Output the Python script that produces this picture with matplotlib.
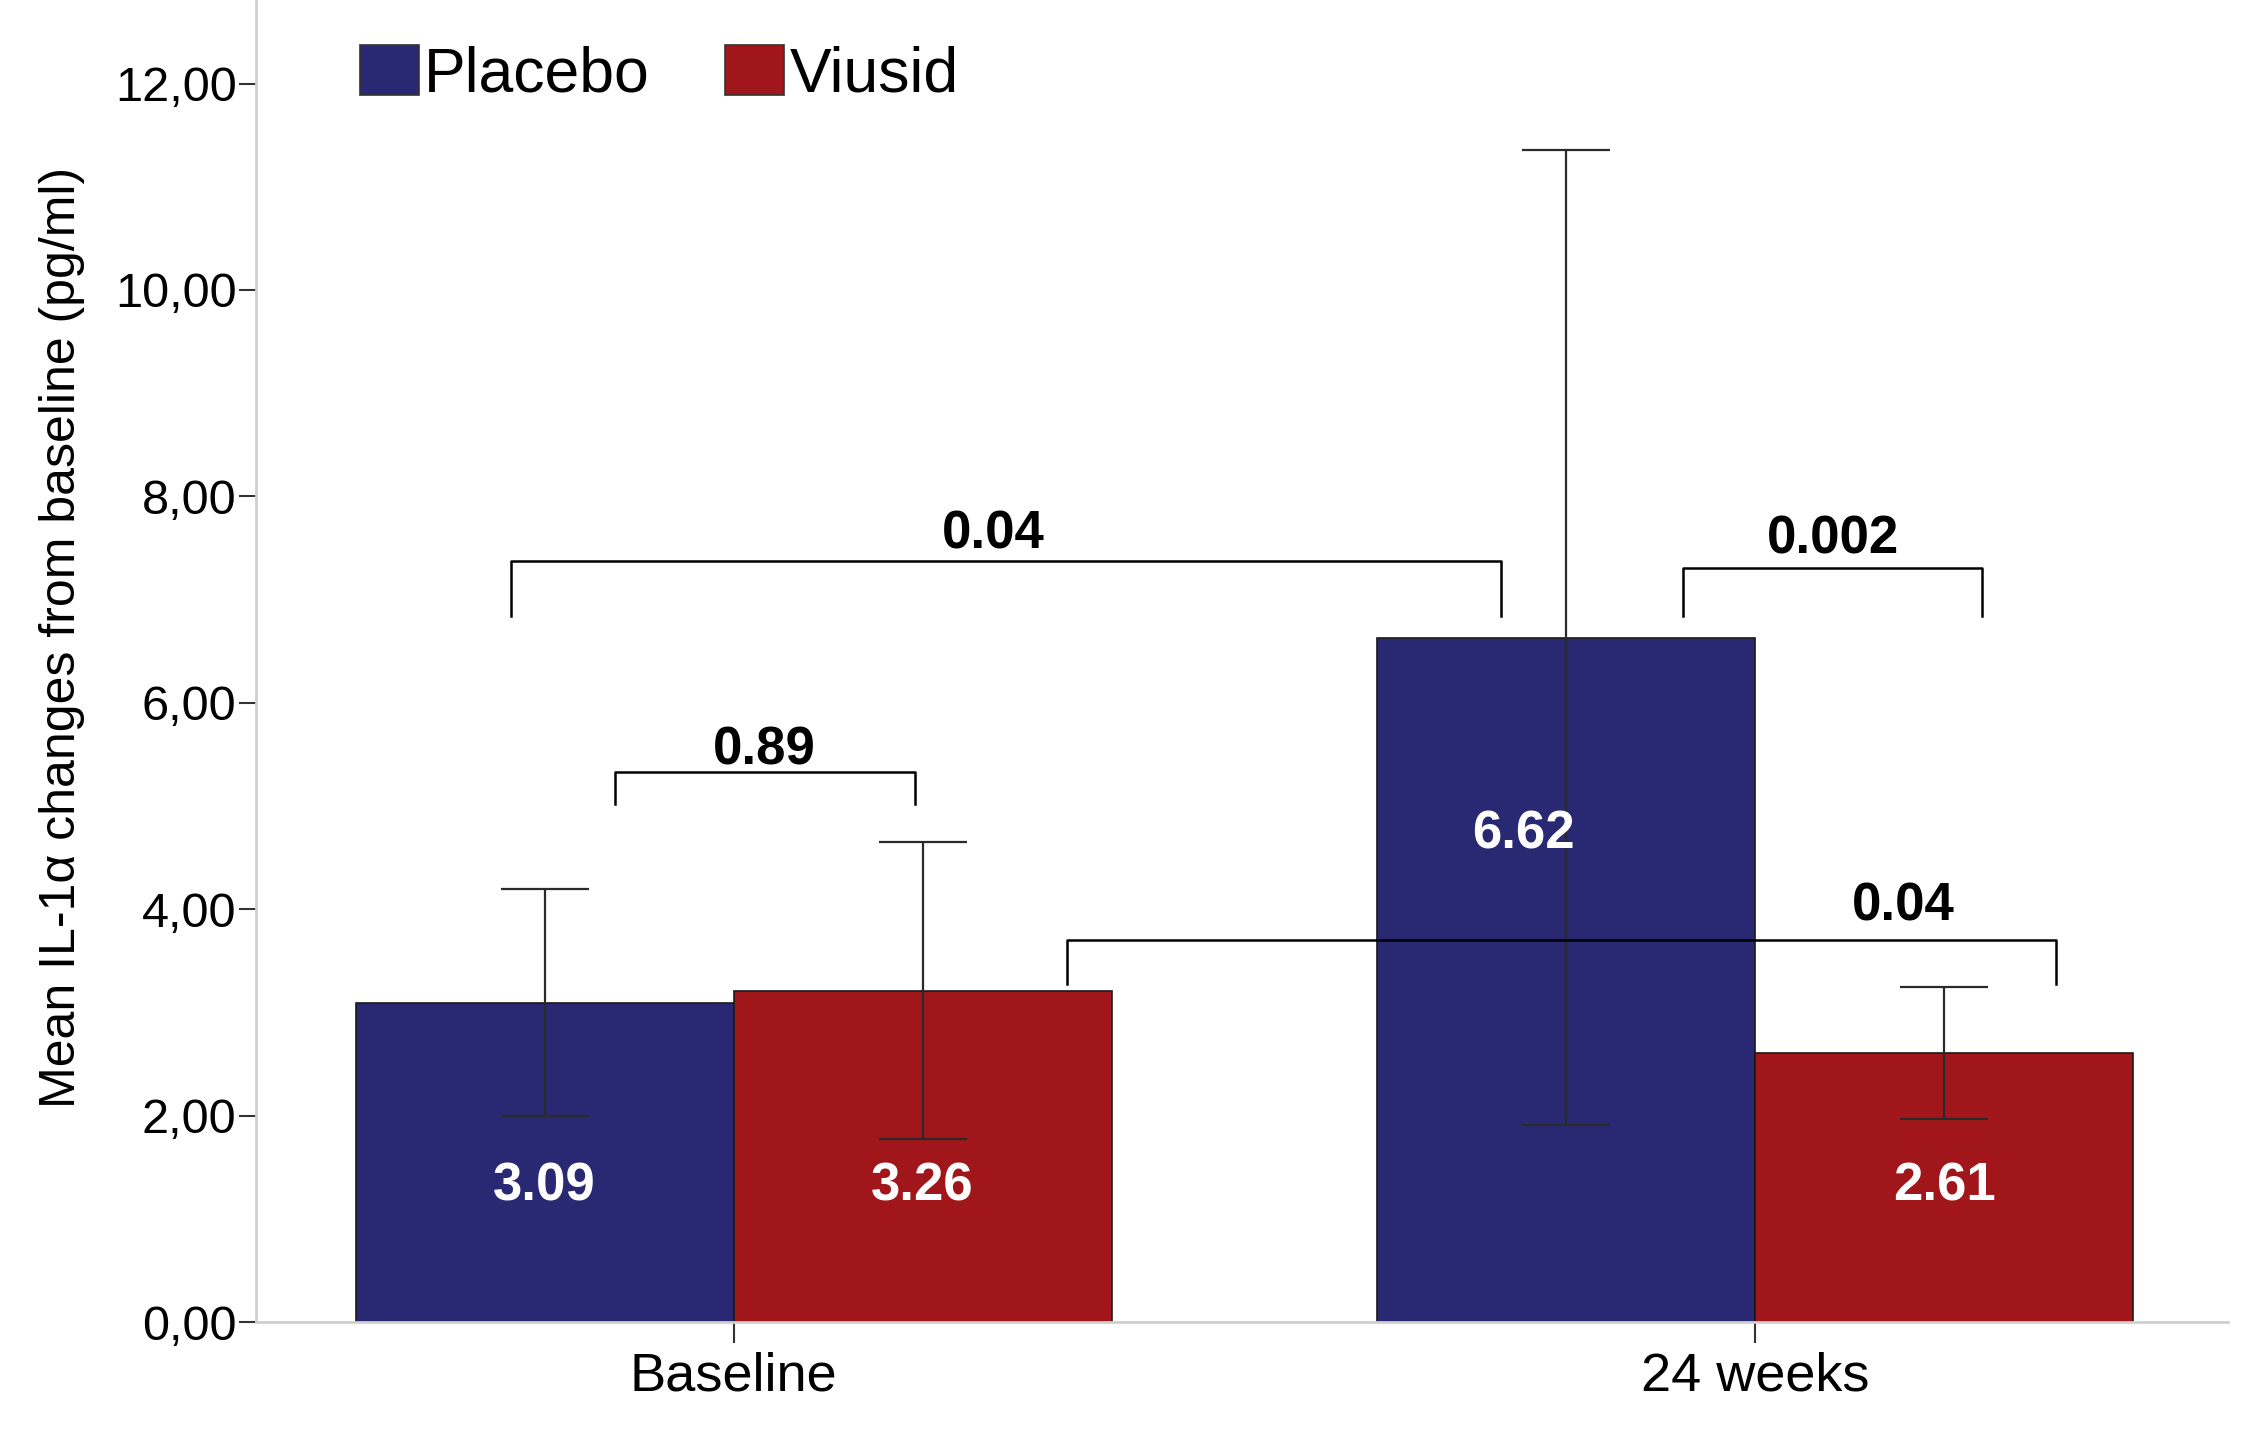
import matplotlib
matplotlib.use("Agg")
import matplotlib.pyplot as plt
import numpy as np

plt.rcParams.update({
    "font.family": ["Liberation Sans", "DejaVu Sans"],
    "axes.spines.top": False,
    "axes.spines.right": False,
})

# ---- data ----
groups = ["Baseline", "24 weeks"]
series = ["Placebo", "Viusid"]
placebo = [3.09, 6.63]
viusid = [3.21, 2.61]
placebo_lo = [2.00, 1.91]
placebo_hi = [4.20, 11.36]
viusid_lo = [1.77, 1.97]
viusid_hi = [4.65, 3.25]
placebo_lbl = ["3.09", "6.62"]
viusid_lbl = ["3.26", "2.61"]
yticks = [0, 2, 4, 6, 8, 10, 12]

# p-value brackets: (x_left, x_right, y_top, y_leg_bottom, text, text_x, text_y)
brackets = [
    (-0.116, 0.178, 5.33, 5.02, "0.89", 0.030, 5.54),
    (-0.218, 0.751, 7.37, 6.84, "0.04", 0.254, 7.63),
    (0.929, 1.222, 7.31, 6.84, "0.002", 1.076, 7.58),
    (0.326, 1.295, 3.70, 3.28, "0.04", 1.145, 4.03),
]

BLUE, RED = "#292973", "#a0161b"
AXGREY = "#cfcfcf"

fig = plt.figure(figsize=(22.58, 14.42), dpi=100)
ax = fig.add_axes([0.1134, 0.0832, 0.8733, 0.9168])

x = np.arange(len(groups))
w = 0.37
ax.bar(x - w/2, placebo, w, color=BLUE, edgecolor="#1a1a1a", linewidth=1.2,
       label=series[0], zorder=2)
ax.bar(x + w/2, viusid, w, color=RED, edgecolor="#1a1a1a", linewidth=1.2,
       label=series[1], zorder=2)

for xs, m, lo, hi in ((x - w/2, placebo, placebo_lo, placebo_hi),
                      (x + w/2, viusid, viusid_lo, viusid_hi)):
    err = [np.subtract(m, lo), np.subtract(hi, m)]
    ax.errorbar(xs, m, yerr=err, fmt="none", ecolor="#2a2a2a", elinewidth=1.6,
                capsize=32, capthick=1.6, zorder=3)

# value labels inside the bars (the tall 24-week placebo one sits higher, left of the whisker)
for xs, lbls in ((x - w/2, placebo_lbl), (x + w/2, viusid_lbl)):
    for xi, t in zip(xs, lbls):
        lx, ly = xi, 1.31
        if t == "6.62":
            lx, ly = xi - 0.042, 4.72
        ax.text(lx, ly, t, color="white", fontsize=38, fontweight="bold",
                ha="center", va="center", zorder=4)

for x0, x1, yt, yb, t, tx, ty in brackets:
    ax.plot([x0, x0, x1, x1], [yb, yt, yt, yb], color="black", lw=1.8,
            solid_joinstyle="round", zorder=4)
    ax.text(tx, ty, t, fontsize=38, fontweight="bold",
            ha="center", va="center", zorder=4)

ax.set_xlim(-0.4675, 1.463)
ax.set_ylim(0, 12.81)
ax.set_yticks(yticks)
ax.set_yticklabels([f"{v:.2f}".replace(".", ",") for v in yticks], fontsize=35)
ax.set_xticks(x)
ax.set_xticklabels(groups, fontsize=39)
ax.tick_params(axis="y", length=12, width=1.5, color="#333333", pad=2)
ax.tick_params(axis="x", length=15, width=1.5, color="#333333", pad=6)
for s in ("left", "bottom"):
    ax.spines[s].set_color(AXGREY)
    ax.spines[s].set_linewidth(2)

ax.set_ylabel("Mean IL-1α changes from baseline (pg/ml)", fontsize=36)
ax.yaxis.set_label_coords(-0.087, 0.518)

ax.legend(loc="upper left", bbox_to_anchor=(0.04, 0.985), ncol=2, frameon=False,
          fontsize=45, handlelength=0.95, handleheight=0.85, handletextpad=0.08,
          columnspacing=1.2, borderaxespad=0)
for p in ax.get_legend().get_patches():
    p.set_edgecolor("#333333")

fig.savefig("out.png", dpi=100)
